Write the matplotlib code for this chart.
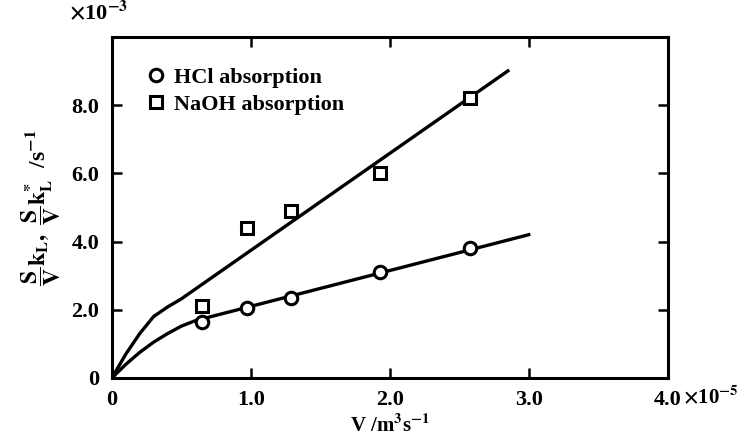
import matplotlib
matplotlib.use("Agg")
import matplotlib.pyplot as plt
import numpy as np

# Measured data (V in 1e-5 m3/s, S/V*kL in 1e-3 1/s)
v_points = [0.65, 0.97, 1.29, 1.93, 2.58]
hcl_points = [1.65, 2.05, 2.35, 3.10, 3.80]
naoh_points = [2.10, 4.40, 4.90, 6.00, 8.20]

# Model curves
hcl_curve_v = [0.0, 0.1, 0.2, 0.3, 0.4, 0.5, 0.6, 3.0]
hcl_curve_y = [0.0, 0.40, 0.75, 1.05, 1.30, 1.52, 1.68, 4.20]
naoh_curve_v = [0.0, 0.1, 0.2, 0.3, 0.4, 0.5, 2.85]
naoh_curve_y = [0.0, 0.70, 1.30, 1.80, 2.08, 2.32, 9.00]

x_ticks = [0, 1, 2, 3, 4]
x_tick_labels = ["0", "1.0", "2.0", "3.0", "4.0"]
y_ticks = [0, 2, 4, 6, 8]
y_tick_labels = ["0", "2.0", "4.0", "6.0", "8.0"]

plt.rcParams["font.family"] = "Liberation Serif"
plt.rcParams["font.weight"] = "bold"
plt.rcParams["mathtext.fontset"] = "stix"

fig = plt.figure(figsize=(7.46, 4.38), dpi=100)
ax = fig.add_axes([0.150, 0.137, 0.745, 0.779])

ax.plot(hcl_curve_v, hcl_curve_y, color="black", linewidth=2.4)
ax.plot(naoh_curve_v, naoh_curve_y, color="black", linewidth=2.4)

ax.plot(v_points, hcl_points, "o", markersize=9, markerfacecolor="white",
        markeredgecolor="black", markeredgewidth=2.2, label="HCl absorption")
ax.plot(v_points, naoh_points, "s", markersize=9, markerfacecolor="white",
        markeredgecolor="black", markeredgewidth=2.2, label="NaOH absorption")

ax.set_xlim(0, 4)
ax.set_ylim(0, 10)
ax.set_xticks(x_ticks)
ax.set_xticklabels(x_tick_labels, fontsize=16, fontweight="bold")
ax.set_yticks(y_ticks)
ax.set_yticklabels(y_tick_labels, fontsize=16, fontweight="bold")
ax.tick_params(direction="in", length=7, width=1.8, top=True, right=True, pad=9)
for spine in ax.spines.values():
    spine.set_linewidth(2.2)

ax.set_xlabel(r"V /m$^3$s$^{-1}$", fontsize=15, fontweight="bold", labelpad=3)
ax.set_ylabel(r"$\mathbf{\dfrac{S}{V}k_{L},\ \dfrac{S}{V}k_{L}^{*}}$  /s$^{-1}$",
              fontsize=17, fontweight="bold", labelpad=6)

# Axis multipliers
fig.text(0.092, 0.945, r"$\times$10$^{-3}$", fontsize=16, fontweight="bold",
         ha="left", va="bottom")
fig.text(0.916, 0.094, r"$\times$10$^{-5}$", fontsize=15, fontweight="bold",
         ha="left", va="center")

ax.legend(loc="upper left", bbox_to_anchor=(0.035, 0.95), frameon=False,
          fontsize=16, handletextpad=0.3, handlelength=1.0,
          borderaxespad=0.2, labelspacing=0.3)

fig.savefig("out.png", dpi=100)
